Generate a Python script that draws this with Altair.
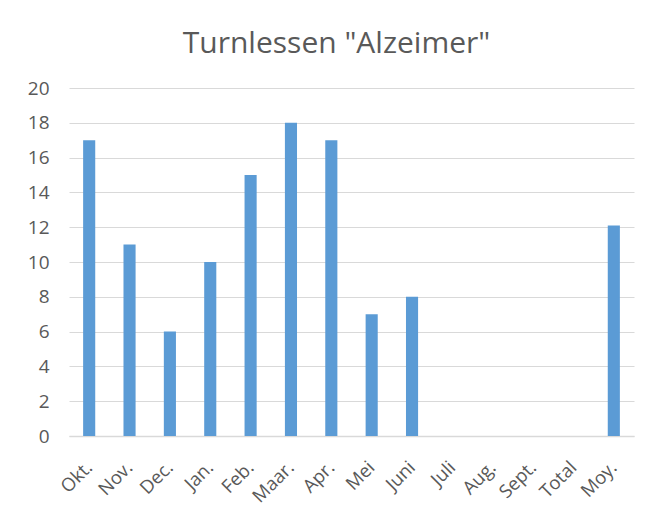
import altair as alt
import pandas as pd

months = ["Okt.", "Nov.", "Dec.", "Jan.", "Feb.", "Maar.", "Apr.", "Mei", "Juni",
          "Juli", "Aug.", "Sept.", "Total", "Moy."]
values = [17, 11, 6, 10, 15, 18, 17, 7, 8, None, None, None, None, 12.1]

df = pd.DataFrame({"maand": months, "aantal": values})

FONT = "Open Sans"
TXT = "#595959"

chart = alt.Chart(df).mark_bar(color="#5B9BD5").encode(
    x=alt.X("maand:N", sort=months,
            scale=alt.Scale(domain=months, paddingInner=0.7, paddingOuter=0.35),
            axis=alt.Axis(title=None, labelAngle=-45, labelFontSize=18.5, labelColor=TXT,
                          labelFont=FONT, ticks=False, domainColor="#D9D9D9",
                          domainWidth=1.5,
                          labelPadding=28, labelAlign="right", labelBaseline="middle")),
    y=alt.Y("aantal:Q", scale=alt.Scale(domain=[0, 20]),
            axis=alt.Axis(title=None, values=list(range(0, 21, 2)), labelFontSize=19,
                          labelColor=TXT, labelFont=FONT, ticks=False, domain=False,
                          gridColor="#D9D9D9", gridWidth=1.2, labelPadding=20)),
).properties(
    width=565, height=348,
    title=alt.TitleParams('Turnlessen "Alzeimer"', fontSize=30, font=FONT,
                          fontWeight="normal", color=TXT, dx=-15, offset=20),
    autosize=alt.AutoSizeParams(type="none"),
    padding={"left": 61, "top": 80, "right": 14, "bottom": 86},
).configure_view(stroke=None)

chart.save("out.html", embed_options={"renderer": "svg", "actions": False})
